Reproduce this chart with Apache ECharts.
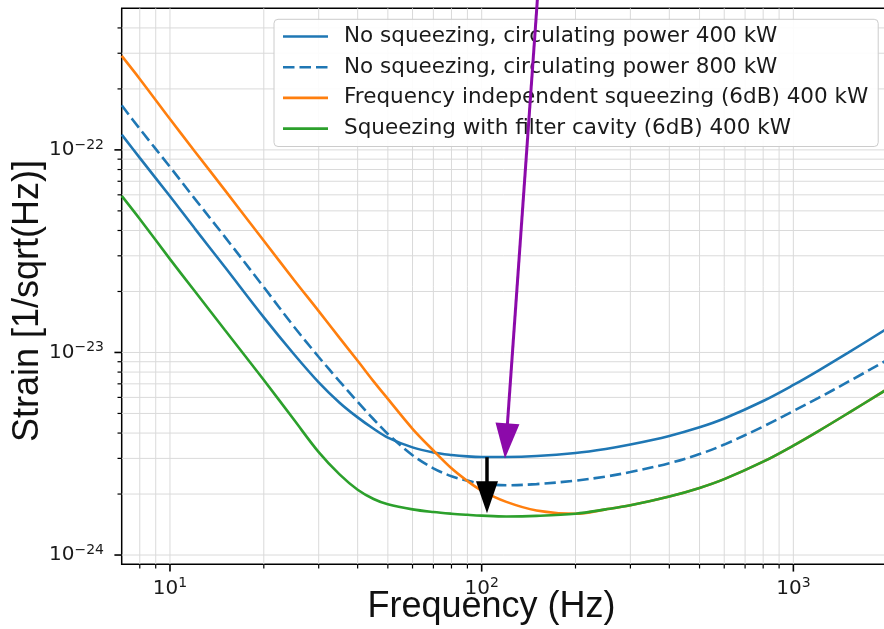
<!DOCTYPE html>
<html><head><meta charset="utf-8">
<script src="https://cdn.jsdelivr.net/npm/echarts@6/dist/echarts.min.js"></script>
<style>html,body{margin:0;padding:0;background:#fff;overflow:hidden}#c{width:884px;height:629px}</style>
</head><body><div id="c"></div>
<script>
// ---- data ----
const freq = [7,8,10,12,15,20,25,30,35,40,45,50,60,70,80,90,100,120,150,200,250,300,400,500,600,800,1000,1200,1500,2000];
const noSqz400 = [1.19e-22,9.13e-23,5.90e-23,4.10e-23,2.64e-23,1.49e-23,9.8e-24,7.12e-24,5.65e-24,4.78e-24,4.20e-24,3.80e-24,3.40e-24,3.21e-24,3.12e-24,3.07e-24,3.05e-24,3.05e-24,3.08e-24,3.19e-24,3.34e-24,3.51e-24,3.87e-24,4.27e-24,4.72e-24,5.76e-24,6.91e-24,8.12e-24,9.98e-24,1.312e-23];
const noSqz800 = [1.66e-22,1.27e-22,8.24e-23,5.75e-23,3.72e-23,2.10e-23,1.34e-23,9.50e-24,7.20e-24,5.70e-24,4.68e-24,3.96e-24,3.11e-24,2.68e-24,2.45e-24,2.33e-24,2.25e-24,2.21e-24,2.24e-24,2.33e-24,2.44e-24,2.57e-24,2.84e-24,3.15e-24,3.51e-24,4.31e-24,5.14e-24,5.95e-24,7.17e-24,9.18e-24];
const fisSqz400 = [2.91e-22,2.24e-22,1.42e-22,9.85e-23,6.33e-23,3.56e-23,2.28e-23,1.60e-23,1.18e-23,9.10e-24,7.20e-24,5.90e-24,4.20e-24,3.28e-24,2.68e-24,2.32e-24,2.08e-24,1.83e-24,1.66e-24,1.60e-24,1.68e-24,1.76e-24,1.945e-24,2.145e-24,2.37e-24,2.89e-24,3.47e-24,4.08e-24,5.02e-24,6.59e-24];
const fcSqz400 = [5.93e-23,4.56e-23,2.89e-23,2.01e-23,1.29e-23,7.31e-24,4.65e-24,3.22e-24,2.50e-24,2.10e-24,1.89e-24,1.78e-24,1.68e-24,1.63e-24,1.60e-24,1.58e-24,1.565e-24,1.55e-24,1.56e-24,1.60e-24,1.68e-24,1.76e-24,1.945e-24,2.145e-24,2.37e-24,2.89e-24,3.47e-24,4.08e-24,5.02e-24,6.59e-24];
const seriesNames = [
  'No squeezing, circulating power 400 kW',
  'No squeezing, circulating power 800 kW',
  'Frequency independent squeezing (6dB) 400 kW',
  'Squeezing with filter cavity (6dB) 400 kW'
];
const xTicks = [8,9,10,20,30,40,50,60,70,80,90,100,200,300,400,500,600,700,800,900,1000];
const yTicks = [1e-24,2e-24,3e-24,4e-24,5e-24,6e-24,7e-24,8e-24,9e-24,1e-23,2e-23,3e-23,4e-23,5e-23,6e-23,7e-23,8e-23,9e-23,1e-22,2e-22,3e-22,4e-22];
const X_MIN = 7, X_MAX = 2000, Y_MIN = 9e-25, Y_MAX = 5e-22;
// annotation arrows: [tailFreq, tailStrain, tipFreq, tipStrain]
const arrowPurple = [151, 5.6e-22, 118.8, 3.0e-24];
const arrowBlack = [104, 3.04e-24, 104, 1.61e-24];

// ---- styles ----
const C = ['#1f77b4', '#1f77b4', '#ff7f0e', '#2ca02c'];
const GRID_C = '#dadada';
const TXT = '#1a1a1a';
const FONT = 'DejaVu Sans';
const LW = 2.6;

function isMajor(v){ const l = Math.log10(v); return Math.abs(l - Math.round(l)) < 1e-9; }
function expStr(v){ const e = Math.round(Math.log10(v)); return e < 0 ? '\u2212' + (-e) : String(e); }
const richTick = {
  b: {fontSize: 20, fontFamily: FONT, fill: TXT, lineHeight: 24},
  s: {fontSize: 14, fontFamily: FONT, fill: TXT, lineHeight: 14, verticalAlign: 'top'}
};

function renderX(params, api){
  const v = api.value(0);
  const b = api.coord([v, Y_MIN]);
  const t = api.coord([v, Y_MAX]);
  const major = isMajor(v);
  const ch = [
    {type:'line', shape:{x1:b[0], y1:b[1], x2:t[0], y2:t[1]}, style:{stroke:GRID_C, lineWidth:1}},
    {type:'line', shape:{x1:b[0], y1:b[1], x2:b[0], y2:b[1] + (major ? 7.3 : 4.2)}, style:{stroke:'#000', lineWidth: major ? 1.6 : 1.2}}
  ];
  if (major) ch.push({type:'text', x:b[0], y:b[1] + 24, style:{text:'{b|10}{s|' + expStr(v) + '}', rich: richTick, align:'center', verticalAlign:'middle'}});
  return {type:'group', children: ch};
}
function renderY(params, api){
  const v = api.value(1);
  const l = api.coord([X_MIN, v]);
  const r = api.coord([X_MAX, v]);
  const major = isMajor(v);
  const ch = [
    {type:'line', shape:{x1:l[0], y1:l[1], x2:r[0], y2:r[1]}, style:{stroke:GRID_C, lineWidth:1}},
    {type:'line', shape:{x1:l[0], y1:l[1], x2:l[0] - (major ? 7.3 : 4.2), y2:l[1]}, style:{stroke:'#000', lineWidth: major ? 1.6 : 1.2}}
  ];
  if (major) ch.push({type:'text', x:l[0] - 17.7, y:l[1], style:{text:'{b|10}{s|' + expStr(v) + '}', rich: richTick, align:'right', verticalAlign:'middle'}});
  return {type:'group', children: ch};
}
const arrowStyle = [
  {color:'#8c0aaa', lw:3, L:35, W:12},
  {color:'#000000', lw:3.5, L:32, W:11}
];
function renderArrow(params, api){
  const st = arrowStyle[params.dataIndex];
  const p0 = api.coord([api.value(0), api.value(1)]);
  const p1 = api.coord([api.value(2), api.value(3)]);
  const dx = p1[0]-p0[0], dy = p1[1]-p0[1];
  const len = Math.sqrt(dx*dx+dy*dy);
  const ux = dx/len, uy = dy/len, nx = -uy, ny = ux;
  const bx = p1[0] - ux*st.L, by = p1[1] - uy*st.L;
  return {type:'group', children:[
    {type:'line', shape:{x1:p0[0], y1:p0[1], x2:bx + ux*2, y2:by + uy*2}, style:{stroke:st.color, lineWidth:st.lw}},
    {type:'polygon', shape:{points:[[p1[0],p1[1]],[bx+nx*st.W, by+ny*st.W],[bx-nx*st.W, by-ny*st.W]]}, style:{fill:st.color}}
  ]};
}

function lineSeries(i, vals, dashed){
  return {
    type:'line', name: seriesNames[i], data: freq.map((f,k)=>[f, vals[k]]),
    symbol:'none', smooth:0.35, z: 3 + i, clip: true,
    lineStyle:{color:C[i], width:LW, type: dashed ? [11.5, 5] : 'solid'},
    itemStyle:{color:C[i]}
  };
}

const chart = echarts.init(document.getElementById('c'), null, {renderer:'canvas'});
chart.setOption({
  animation:false,
  backgroundColor:'#ffffff',
  grid:{left:121.7, top:8.3, width:765.5, height:556, show:true, borderColor:'#000', borderWidth:1.5, backgroundColor:'transparent', containLabel:false, outerBoundsMode:'none'},
  xAxis:{type:'log', logBase:10, min:X_MIN, max:X_MAX, axisLine:{show:false}, axisTick:{show:false}, axisLabel:{show:false}, splitLine:{show:false}, minorTick:{show:false}, minorSplitLine:{show:false}},
  yAxis:{type:'log', logBase:10, min:Y_MIN, max:Y_MAX, axisLine:{show:false}, axisTick:{show:false}, axisLabel:{show:false}, splitLine:{show:false}, minorTick:{show:false}, minorSplitLine:{show:false}},
  legend:{
    data: seriesNames, orient:'vertical', align:'left', left:274, top:19.3,
    padding:[5.2,10,5.9,7.7], itemGap:6.7, itemWidth:45, itemHeight:14,
    itemStyle:{opacity:0},
    lineStyle:{width:LW},
    backgroundColor:'rgba(255,255,255,0.9)', borderColor:'#cccccc', borderWidth:1, borderRadius:4,
    textStyle:{fontSize:21.5, fontFamily:FONT, color:TXT, lineHeight:24, padding:[0,0,0,11]},
    selectedMode:false, z:5
  },
  graphic:[
    {type:'text', x:491.5, y:607, style:{text:'Frequency (Hz)', fontSize:36, fontFamily:'Liberation Sans', fill:'#111', align:'center', verticalAlign:'middle'}},
    {type:'text', x:28, y:301, rotation:Math.PI/2, style:{text:'Strain [1/sqrt(Hz)]', fontSize:36, fontFamily:'Liberation Sans', fill:'#111', align:'center', verticalAlign:'middle'}}
  ],
  series:[
    {type:'custom', name:'xgrid', renderItem:renderX, data:xTicks.map(v=>[v, Y_MIN]), clip:false, silent:true, z:1},
    {type:'custom', name:'ygrid', renderItem:renderY, data:yTicks.map(v=>[X_MIN, v]), clip:false, silent:true, z:1},
    lineSeries(0, noSqz400, false),
    lineSeries(1, noSqz800, true),
    lineSeries(2, fisSqz400, false),
    lineSeries(3, fcSqz400, false),
    {type:'custom', name:'arrows', renderItem:renderArrow, data:[arrowPurple, arrowBlack], encode:{x:[0,2], y:[1,3]}, clip:false, silent:true, z:10}
  ]
});
</script>
</body></html>
